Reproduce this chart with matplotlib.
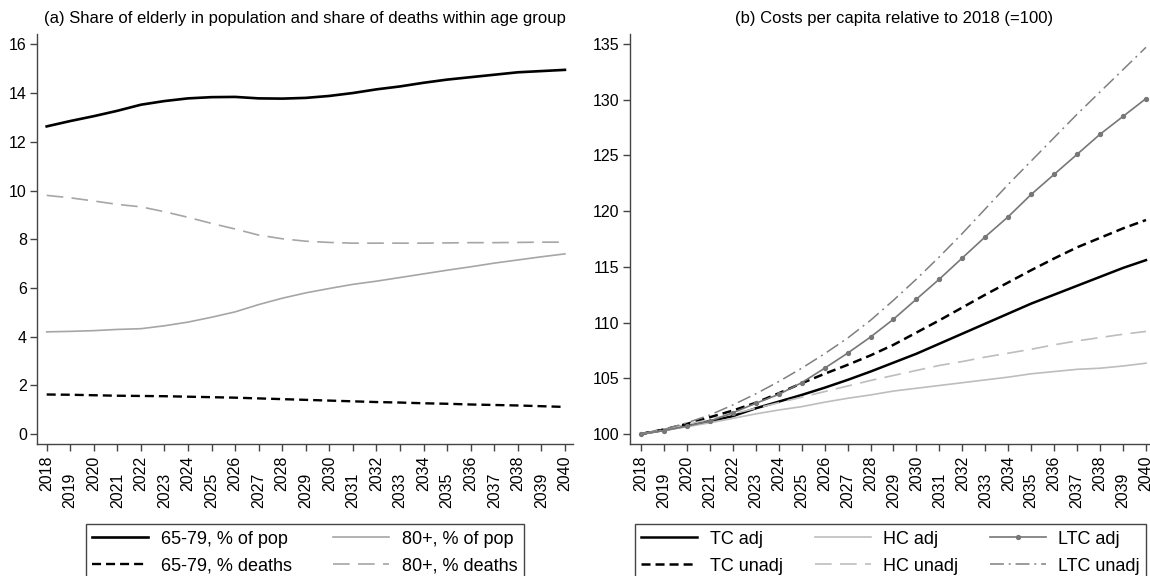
import matplotlib
matplotlib.use("Agg")
import matplotlib.pyplot as plt
from matplotlib.ticker import MultipleLocator

plt.rcParams["font.family"] = ["Liberation Sans", "DejaVu Sans"]
plt.rcParams["lines.scale_dashes"] = False

years = list(range(2018, 2041))

# (a) shares, %
pop_6579 = [12.63, 12.85, 13.05, 13.27, 13.52, 13.67, 13.78, 13.83, 13.84, 13.78, 13.77, 13.80,
            13.88, 14.00, 14.15, 14.27, 14.42, 14.55, 14.65, 14.75, 14.85, 14.90, 14.95]
deaths_6579 = [1.63, 1.62, 1.60, 1.58, 1.57, 1.56, 1.54, 1.52, 1.50, 1.47, 1.44, 1.41,
               1.38, 1.35, 1.32, 1.30, 1.27, 1.25, 1.22, 1.20, 1.18, 1.15, 1.12]
pop_80 = [4.20, 4.22, 4.25, 4.30, 4.33, 4.45, 4.60, 4.80, 5.02, 5.32, 5.58, 5.80,
          5.98, 6.15, 6.28, 6.43, 6.58, 6.73, 6.87, 7.02, 7.15, 7.28, 7.40]
deaths_80 = [9.80, 9.70, 9.57, 9.43, 9.33, 9.13, 8.90, 8.65, 8.42, 8.17, 8.02, 7.92,
             7.87, 7.84, 7.84, 7.84, 7.84, 7.85, 7.86, 7.86, 7.87, 7.88, 7.88]

# (b) costs per capita, 2018 = 100
tc_adj = [100.0, 100.35, 100.75, 101.15, 101.6, 102.3, 102.9, 103.5, 104.15, 104.85, 105.6, 106.4,
          107.2, 108.1, 109.0, 109.9, 110.8, 111.7, 112.5, 113.3, 114.1, 114.9, 115.6]
tc_unadj = [100.0, 100.4, 100.9, 101.5, 102.1, 102.8, 103.65, 104.55, 105.4, 106.2, 107.05, 108.0,
            109.1, 110.2, 111.35, 112.5, 113.6, 114.7, 115.75, 116.75, 117.6, 118.45, 119.2]
hc_adj = [100.0, 100.3, 100.65, 101.0, 101.4, 101.8, 102.15, 102.45, 102.85, 103.2, 103.5, 103.85,
          104.1, 104.35, 104.6, 104.85, 105.1, 105.4, 105.6, 105.8, 105.9, 106.1, 106.35]
hc_unadj = [100.0, 100.4, 100.85, 101.3, 101.8, 102.3, 102.8, 103.3, 103.8, 104.3, 104.8, 105.25,
            105.7, 106.15, 106.5, 106.9, 107.25, 107.6, 108.0, 108.35, 108.65, 108.95, 109.2]
ltc_adj = [100.0, 100.3, 100.7, 101.15, 101.9, 102.75, 103.55, 104.6, 105.9, 107.25, 108.7, 110.3,
           112.1, 113.9, 115.8, 117.7, 119.5, 121.5, 123.3, 125.1, 126.9, 128.5, 130.1]
ltc_unadj = [100.0, 100.4, 101.0, 101.7, 102.6, 103.6, 104.7, 105.9, 107.2, 108.6, 110.2, 112.0,
             113.9, 115.9, 118.0, 120.2, 122.4, 124.5, 126.6, 128.7, 130.7, 132.7, 134.7]

fig = plt.figure(figsize=(11.5, 5.76), dpi=100)
ax1 = fig.add_axes([0.0324, 0.2292, 0.4658, 0.7113])
ax2 = fig.add_axes([0.5478, 0.2292, 0.4587, 0.7113])

axcol = "#444444"


def style_axes(ax):
    for s in ("top", "right"):
        ax.spines[s].set_visible(False)
    for s in ("left", "bottom"):
        ax.spines[s].set_color(axcol)
        ax.spines[s].set_linewidth(1.0)
    ax.set_xticks(years[::2])
    ax.set_xticks(years[1::2], minor=True)
    ax.set_xticklabels([str(y) for y in years[::2]], rotation=90)
    ax.set_xticklabels([str(y) for y in years[1::2]], rotation=90, minor=True)
    ax.tick_params(axis="x", which="major", length=5, width=1, color=axcol, pad=3.6, labelsize=11.5)
    ax.tick_params(axis="x", which="minor", length=5, width=1, color=axcol, pad=15.8, labelsize=11.5)
    ax.tick_params(axis="y", length=5, width=1, color=axcol, pad=2.5, labelsize=11.5)


# panel (a)
ax1.plot(years, pop_6579, color="black", lw=1.9, label="65-79, % of pop")
ax1.plot(years, deaths_6579, color="black", lw=1.7, dashes=(6.5, 3.6), label="65-79, % deaths")
ax1.plot(years, pop_80, color="#a6a6a6", lw=1.2, label="80+, % of pop")
ax1.plot(years, deaths_80, color="#a6a6a6", lw=1.2, dashes=(12, 6), label="80+, % deaths")
ax1.set_xlim(2017.6, 2040.34)
ax1.set_ylim(-0.4, 16.41)
ax1.yaxis.set_major_locator(MultipleLocator(2))
style_axes(ax1)
ax1.set_title("(a) Share of elderly in population and share of deaths within age group",
              fontsize=12, pad=8)

# panel (b)
ax2.plot(years, tc_adj, color="black", lw=1.8, label="TC adj")
ax2.plot(years, tc_unadj, color="black", lw=1.8, dashes=(6.5, 3.6), label="TC unadj")
ax2.plot(years, hc_adj, color="#bdbdbd", lw=1.2, label="HC adj")
ax2.plot(years, hc_unadj, color="#bdbdbd", lw=1.2, dashes=(12, 6), label="HC unadj")
ax2.plot(years, ltc_adj, color="#777777", lw=1.2, marker="o", ms=2.8, label="LTC adj")
ax2.plot(years, ltc_unadj, color="#808080", lw=1.1, dashes=(10, 3.5, 1.4, 3.5), label="LTC unadj")
ax2.set_xlim(2017.52, 2040.5)
ax2.set_ylim(99.1, 135.87)
ax2.yaxis.set_major_locator(MultipleLocator(5))
style_axes(ax2)
ax2.set_title("(b) Costs per capita relative to 2018 (=100)", fontsize=12, pad=8)

leg_kw = dict(loc="upper left", bbox_transform=fig.transFigure, borderaxespad=0,
              fontsize=13, handlelength=3.1, handletextpad=0.7, borderpad=0.35,
              labelspacing=0.55, fancybox=False, framealpha=1, edgecolor=axcol, numpoints=1)
l1 = ax1.legend(ncol=2, bbox_to_anchor=(86 / 1150, 1 - 524.3 / 576), columnspacing=2.3, **leg_kw)
l2 = ax2.legend(ncol=3, bbox_to_anchor=(635 / 1150, 1 - 524.3 / 576), columnspacing=1.75, **leg_kw)
for lg in (l1, l2):
    lg.get_frame().set_linewidth(1.0)

fig.savefig("out.png", dpi=100)
